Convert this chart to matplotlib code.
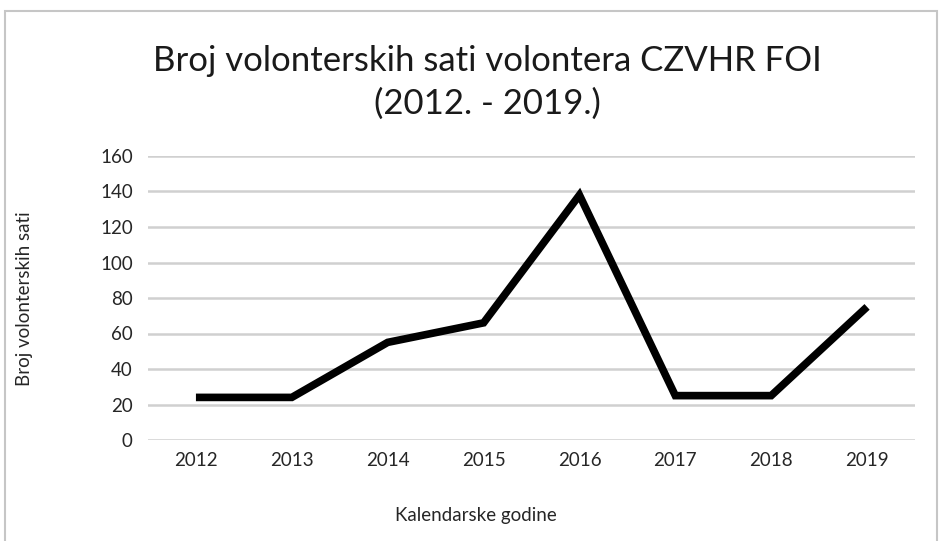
import matplotlib
matplotlib.use("Agg")
import matplotlib.pyplot as plt
from matplotlib.patches import Rectangle

years = ["2012", "2013", "2014", "2015", "2016", "2017", "2018", "2019"]
hours = [24, 24, 55, 66, 138, 25, 25, 75]
yticks = [0, 20, 40, 60, 80, 100, 120, 140, 160]

plt.rcParams['font.family'] = ['Lato', 'DejaVu Sans']

W, H = 940, 541
fig = plt.figure(figsize=(W / 100, H / 100), dpi=100)
fig.patch.set_facecolor('white')

# outer chart border
fig.patches.append(Rectangle((5 / W, -0.05), 932 / W, 1.05 - 11 / H,
                             transform=fig.transFigure, fill=False,
                             edgecolor='#c6c6c6', linewidth=1.5))

left, right, top, bottom = 148, 915, 156, 440
ax = fig.add_axes([left / W, 1 - bottom / H, (right - left) / W, (bottom - top) / H])

x = list(range(len(years)))
ax.plot(x, hours, color='black', linewidth=5.5, solid_joinstyle='miter',
        solid_capstyle='butt', zorder=3)

ax.set_xlim(-0.5, len(years) - 0.5)
ax.set_ylim(0, 160)
ax.set_yticks(yticks)
ax.set_yticklabels([str(v) for v in yticks])
ax.set_xticks(x)
ax.set_xticklabels(years)
ax.tick_params(axis='both', length=0, labelsize=13.5, colors='#262626')
ax.tick_params(axis='x', pad=9)
ax.tick_params(axis='y', pad=11)
ax.grid(axis='y', color='#d0d0d0', linewidth=1.8)
ax.set_axisbelow(True)
for s in ax.spines.values():
    s.set_visible(False)

fig.text(487 / W, 1 - 61 / H, "Broj volonterskih sati volontera CZVHR FOI",
         ha='center', va='center', fontsize=25, color='#1a1a1a')
fig.text(487 / W, 1 - 104 / H, "(2012. - 2019.)",
         ha='center', va='center', fontsize=25, color='#1a1a1a')

fig.text(476 / W, 1 - 516 / H, "Kalendarske godine", ha='center', va='center',
         fontsize=13.5, color='#262626')
fig.text(25 / W, 1 - 299 / H, "Broj volonterskih sati", ha='center', va='center',
         rotation=90, fontsize=13.5, color='#262626')

fig.savefig("out.png", dpi=100)
